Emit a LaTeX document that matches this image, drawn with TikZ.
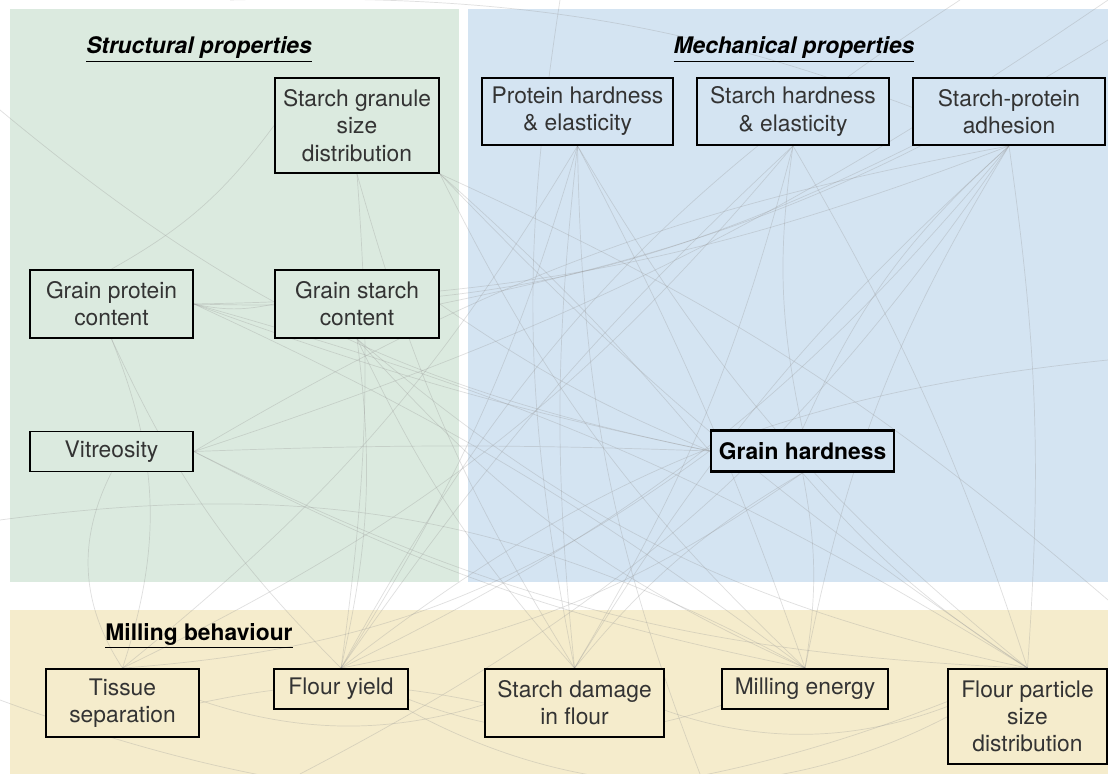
\documentclass[tikz,border=0pt]{standalone}
\usepackage{fontspec}
\setmainfont{TeX Gyre Heros}
\usetikzlibrary{positioning}

\definecolor{structgreen}{RGB}{219,234,223}
\definecolor{mechblue}{RGB}{212,228,242}
\definecolor{millyellow}{RGB}{245,236,204}
\definecolor{webgray}{RGB}{150,150,150}

\pgfdeclarelayer{panels}
\pgfdeclarelayer{webs}
\pgfsetlayers{panels,webs,main}

\tikzset{
  prop/.style={draw=black, line width=0.9pt, align=center, inner sep=0pt,
    font=\fontsize{11.4}{13.6}\selectfont, text=black!80},
  heading/.style={font=\fontsize{11.4}{13.6}\selectfont\bfseries, text=black},
  web/.style={draw=webgray, opacity=0.3, line width=0.35pt}
}

\begin{document}
\begin{tikzpicture}[x=0.5pt, y=-0.5pt]
\clip (0,0) rectangle (1108,774);

\begin{pgfonlayer}{panels}
\fill[white] (0,0) rectangle (1108,774);
\fill[structgreen] (10,9) rectangle (459,582);
\fill[mechblue] (468,9) rectangle (1108,582);
\fill[millyellow] (10,610) rectangle (1108,774);
\end{pgfonlayer}

\node[heading] (structTitle) at (199,50) {\itshape\underline{Structural properties}};
\node[heading] (mechTitle) at (794,50) {\itshape\underline{Mechanical properties}};
\node[heading] (millTitle) at (199,636) {\underline{Milling behaviour}};

\node[prop, fill=structgreen, minimum width=82, minimum height=47.5] (granule) at (357,125.5) {Starch granule\\size\\distribution};
\node[prop, fill=structgreen, minimum width=81.5, minimum height=34] (protein) at (111.5,304) {Grain protein\\content};
\node[prop, fill=structgreen, minimum width=82, minimum height=34] (starch) at (357,304) {Grain starch\\content};
\node[prop, fill=structgreen, minimum width=81.5, minimum height=20] (vitreo) at (111.5,451.5) {Vitreosity};

\node[prop, fill=mechblue, minimum width=95.5, minimum height=33.5] (protHard) at (577.5,111.5) {Protein hardness\\\& elasticity};
\node[prop, fill=mechblue, minimum width=96, minimum height=33.5] (starchHard) at (793,111.5) {Starch hardness\\\& elasticity};
\node[prop, fill=mechblue, minimum width=96, minimum height=33.5] (adhesion) at (1009,111.5) {Starch-protein\\adhesion};
\node[prop, fill=mechblue, line width=1.4pt, minimum width=91.5, minimum height=20.5,
  font=\fontsize{11.4}{13.6}\selectfont\bfseries, text=black] (hardness) at (802.5,451) {Grain hardness};

\node[prop, fill=millyellow, minimum width=76.5, minimum height=34] (tissue) at (122.5,703) {Tissue\\separation};
\node[prop, fill=millyellow, minimum width=67, minimum height=20] (yield) at (341,689) {Flour yield};
\node[prop, fill=millyellow, minimum width=89.5, minimum height=34] (damage) at (574.5,703) {Starch damage\\in flour};
\node[prop, fill=millyellow, minimum width=83, minimum height=20] (energy) at (805,689) {Milling energy};
\node[prop, fill=millyellow, minimum width=79.5, minimum height=47.5] (particle) at (1027.5,716.5) {Flour particle\\size\\distribution};

\coordinate (edgeA) at (0,110);
\coordinate (edgeB) at (230,0);
\coordinate (edgeC) at (560,0);
\coordinate (edgeD) at (960,0);
\coordinate (edgeE) at (1108,40);
\coordinate (edgeF) at (1108,360);
\coordinate (edgeG) at (0,520);
\coordinate (edgeH) at (300,774);
\coordinate (edgeI) at (700,774);
\coordinate (edgeJ) at (1108,600);
\coordinate (edgeK) at (0,700);
\coordinate (edgeL) at (1108,0);

\begin{pgfonlayer}{webs}
\foreach \from/\to/\bend in {
  protein.east/hardness.west/-4, protein.east/adhesion.south/-10, protein.east/particle.north/8,
  protein.east/energy.north/6, protein.south/tissue.north/20, protein.south/yield.north/-10,
  protein.east/starch.west/-12,
  vitreo.east/hardness.west/2, vitreo.east/energy.north/-8, vitreo.east/particle.north/-12,
  vitreo.east/adhesion.south/10, vitreo.south/tissue.north/-30,
  granule.south/yield.north/6, granule.south/damage.north/-8, granule.south east/particle.north/-6,
  granule.south east/hardness.west/4, granule.south east/energy.north/-10, granule.west/protein.north/12,
  protHard.south/yield.north/8, protHard.south/damage.north/-6, protHard.south/energy.north/4,
  protHard.south/particle.north/-10, protHard.south/tissue.north/10,
  starchHard.south/yield.north/-6, starchHard.south/damage.north/8, starchHard.south/particle.north/6,
  starchHard.south/hardness.north/-10, starchHard.south/tissue.north/12,
  adhesion.south/damage.north/-8, adhesion.south/yield.north/12, adhesion.south/particle.north/6,
  adhesion.south/energy.north/-10, adhesion.south west/protein.east/14, adhesion.south/hardness.north/-12,
  starch.south/yield.north/10, starch.south/damage.north/-8, starch.south/energy.north/-12,
  starch.east/hardness.west/-6, starch.south/particle.north/-14,
  hardness.south/energy.north/10, hardness.south/particle.north/-8, hardness.south/yield.north/12,
  hardness.south/damage.north/-10, hardness.west/tissue.north/16,
  tissue.east/damage.west/12, yield.north/particle.north/-35, damage.north/particle.north/-30,
  yield.north/energy.north/-28, tissue.north/damage.north/-26,
  edgeA/hardness.west/-14, edgeB/adhesion.south/12, edgeC/damage.north/-10, edgeD/yield.north/-14,
  edgeE/starch.east/10, edgeF/yield.north/-16, edgeG/energy.north/18, edgeH/adhesion.south/-14,
  edgeI/protHard.south/10, edgeJ/granule.south east/-8, edgeK/particle.north/-22, edgeL/vitreo.east/8}
  \draw[web] (\from) to[bend left=\bend] (\to);
\end{pgfonlayer}
\end{tikzpicture}
\end{document}
